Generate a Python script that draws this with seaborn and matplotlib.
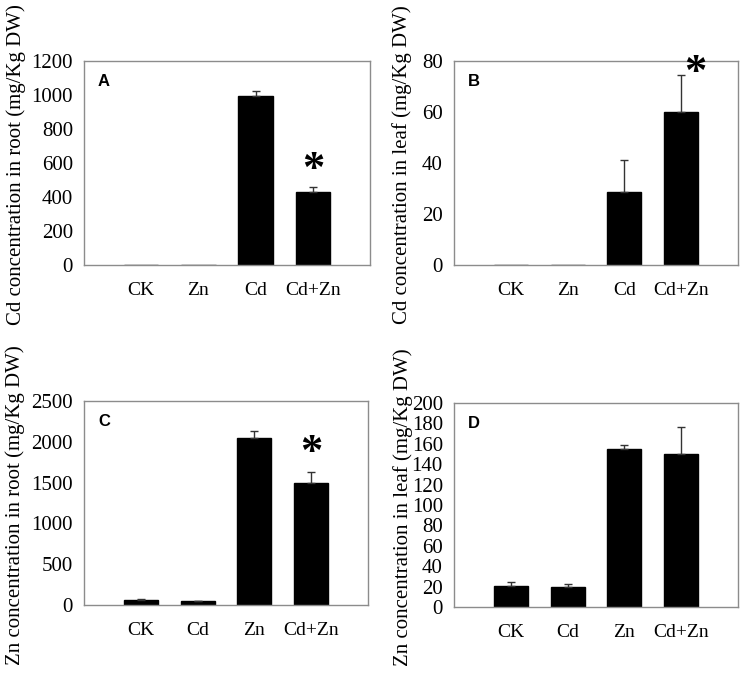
import numpy as np
import pandas as pd
import matplotlib
matplotlib.use("Agg")
import matplotlib.pyplot as plt
import seaborn as sns

# panel data
cats_cd = ["CK", "Zn", "Cd", "Cd+Zn"]
cats_zn = ["CK", "Cd", "Zn", "Cd+Zn"]

cd_root = [0, 0, 994, 429]
cd_root_err = [0, 0, 30, 28]
cd_leaf = [0, 0, 28.8, 60.1]
cd_leaf_err = [0, 0, 12.4, 14.4]
zn_root = [65, 45, 2047, 1501]
zn_root_err = [8, 6, 80, 130]
zn_leaf = [21, 19.5, 155, 150]
zn_leaf_err = [4, 3.5, 3.5, 26]

ylabels = ["Cd concentration in root (mg/Kg DW)",
           "Cd concentration in leaf (mg/Kg DW)",
           "Zn concentration in root (mg/Kg DW)",
           "Zn concentration in leaf (mg/Kg DW)"]
letters = ["A", "B", "C", "D"]
ylims = [(0, 1200), (0, 80), (0, 2500), (0, 200)]
ysteps = [200, 20, 500, 20]
# significance stars: (category index, y, x offset)
stars = [(3, 559, 0.0), (3, 75.3, 0.25), (3, 1863, 0.0), None]

sns.set_style("white")
plt.rcParams["font.family"] = ["Liberation Serif", "DejaVu Serif"]
plt.rcParams["text.color"] = "black"
plt.rcParams["axes.labelcolor"] = "black"
plt.rcParams["xtick.labelcolor"] = "black"
plt.rcParams["ytick.labelcolor"] = "black"

fig = plt.figure(figsize=(7.43, 6.96), dpi=100)
rects = [
    [84 / 743, 1 - 265 / 696, 286 / 743, 204 / 696],
    [454 / 743, 1 - 265 / 696, 284 / 743, 204 / 696],
    [84 / 743, 1 - 605 / 696, 284 / 743, 204 / 696],
    [454 / 743, 1 - 607 / 696, 284 / 743, 204 / 696],
]
label_x = [-58 / 286, -42 / 284, -59 / 284, -41 / 284]

panels = [
    (cats_cd, cd_root, cd_root_err),
    (cats_cd, cd_leaf, cd_leaf_err),
    (cats_zn, zn_root, zn_root_err),
    (cats_zn, zn_leaf, zn_leaf_err),
]

for i, (cats, vals, errs) in enumerate(panels):
    ax = fig.add_axes(rects[i])
    df = pd.DataFrame({"treatment": cats, "value": vals})
    sns.barplot(data=df, x="treatment", y="value", order=cats, color="black",
                width=0.6, ax=ax, saturation=1, edgecolor="black")
    idx = [k for k in range(4) if vals[k] > 0]
    ax.errorbar(idx, [vals[k] for k in idx],
                yerr=[np.zeros(len(idx)), [errs[k] for k in idx]],
                fmt="none", ecolor="#333333", elinewidth=1, capsize=3, capthick=1)
    ax.set_xlim(-1, 4)
    ax.set_ylim(*ylims[i])
    ax.set_yticks(np.arange(ylims[i][0], ylims[i][1] + 1, ysteps[i]))
    ax.set_xlabel("")
    ax.set_ylabel(ylabels[i], fontsize=15, color="black")
    ax.yaxis.set_label_coords(label_x[i], 0.49)
    for sp in ax.spines.values():
        sp.set_visible(True)
        sp.set_color("#8c8c8c")
        sp.set_linewidth(1)
    ax.tick_params(axis="both", direction="out", length=3, width=0.8,
                   color="#8c8c8c", labelcolor="black")
    ax.tick_params(axis="x", pad=9, labelsize=14)
    ax.tick_params(axis="y", pad=5, labelsize=15)
    ax.text(0.07, 0.9, letters[i], transform=ax.transAxes, fontsize=12,
            fontweight="bold", family=["Liberation Sans", "DejaVu Sans"],
            color="black", ha="center", va="center")
    if stars[i] is not None:
        k, ys, dx = stars[i]
        ax.text(k + dx, ys, "*", fontsize=32, fontweight="bold",
                color="black", ha="center", va="center")

fig.savefig("out.png", dpi=100)
